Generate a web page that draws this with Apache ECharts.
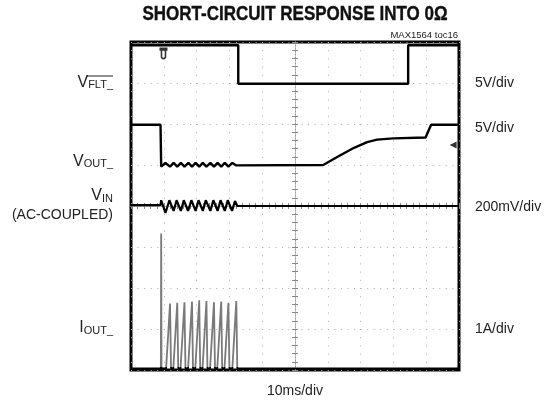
<!DOCTYPE html>
<html><head><meta charset="utf-8">
<script src="https://cdn.jsdelivr.net/npm/echarts@6/dist/echarts.min.js"></script>
<style>html,body{margin:0;padding:0;background:#fff}#c{width:559px;height:407px}</style>
</head><body><div id="c"></div>
<script>
// All values in oscilloscope divisions, centred on the screen (x: -5..5, y: -4..4)
const vfltX = [-5, -1.73, -1.73, 3.45, 3.45, 5];
const vfltY = [3.92, 3.92, 2.98, 2.98, 3.92, 3.92];

const voutX = [-5, -4.10, -4.08, -3.95, -3.81, -3.70, -3.59, -3.48, -3.37, -3.25, -3.14, -3.03, -2.92, -2.81, -2.70, -2.58, -2.47, -2.36, -2.25, -2.14, -2.03, -1.91, -1.79, 0.86, 1.30, 1.80, 2.20, 2.50, 3.00, 3.98, 4.15, 5];
const voutY = [1.98, 1.98, 0.96, 1.05, 0.96, 1.05, 0.96, 1.05, 0.96, 1.05, 0.96, 1.05, 0.96, 1.05, 0.96, 1.05, 0.96, 1.05, 0.96, 1.05, 0.96, 1.05, 0.99, 1.00, 1.20, 1.42, 1.56, 1.62, 1.65, 1.67, 1.98, 1.98];

const vinX = [-5, -4.10, -4.08, -3.95, -3.83, -3.70, -3.61, -3.48, -3.39, -3.26, -3.16, -3.03, -2.94, -2.81, -2.72, -2.58, -2.49, -2.36, -2.27, -2.14, -2.05, -1.92, -1.83, -1.76, 5];
const vinY = [0.02, 0.02, 0.14, -0.17, 0.14, -0.12, 0.14, -0.12, 0.14, -0.12, 0.14, -0.12, 0.14, -0.12, 0.14, -0.12, 0.14, -0.12, 0.14, -0.12, 0.14, -0.12, 0.12, 0.00, 0.00];

const ioutX = [-5, -4.09, -4.08, -4.07, -3.93, -3.81, -3.78, -3.71, -3.59, -3.56, -3.49, -3.37, -3.34, -3.26, -3.14, -3.11, -3.04, -2.92, -2.89, -2.82, -2.70, -2.67, -2.59, -2.47, -2.44, -2.37, -2.25, -2.22, -2.15, -2.03, -2.00, -1.91, -1.79, -1.76, 5];
const ioutY = [-3.96, -3.96, -0.67, -3.96, -3.96, -2.38, -3.96, -3.96, -2.36, -3.96, -3.96, -2.35, -3.96, -3.96, -2.33, -3.96, -3.96, -2.30, -3.96, -3.96, -2.32, -3.96, -3.96, -2.35, -3.96, -3.96, -2.33, -3.96, -3.96, -2.36, -3.96, -3.96, -2.32, -3.96, -3.96];

// trigger / level markers
const markerX = [-4.01, 4.82];
const markerY = [3.72, 1.49];

const leftLabels = [
  {main: 'V', sub: 'FLT_', y: 82.5},
  {main: 'V', sub: 'OUT_', y: 161.5},
  {main: 'V', sub: 'IN', y: 196},
  {main: 'I', sub: 'OUT_', y: 328}
];
const rightLabels = [
  {text: '5V/div', y: 83.5},
  {text: '5V/div', y: 128},
  {text: '200mV/div', y: 207},
  {text: '1A/div', y: 329}
];

const FONT = 'Liberation Sans, Arial, sans-serif';
function zip(xs, ys) { return xs.map((x, i) => [x, ys[i]]); }

const chart = echarts.init(document.getElementById('c'), null, {renderer: 'canvas'});

function axisCommon(pos, isX) {
  return {
    type: 'value', position: pos,
    min: isX ? -5 : -4, max: isX ? 5 : 4, interval: 1,
    axisLabel: {show: false},
    axisLine: {show: true, onZero: true, onZeroAxisIndex: 0, lineStyle: {color: '#999', width: 1, type: [1, 2]}},
    axisTick: {show: true, length: 3, lineStyle: {color: '#888', width: 1}},
    minorTick: {show: true, splitNumber: 5, length: 3, lineStyle: {color: '#888', width: 1}},
    splitLine: {show: false}
  };
}

const xMain = axisCommon('bottom', true);
xMain.splitLine = {show: true, lineStyle: {color: '#aaa', width: 1, type: [1, 7.2]}};
const yMain = axisCommon('left', false);
yMain.splitLine = {show: true, lineStyle: {color: '#aaa', width: 1, type: [1, 5.56]}};

const graphics = [
  {type: 'text', x: 295, y: 14, scaleX: 0.85, style: {text: 'SHORT-CIRCUIT RESPONSE INTO 0Ω', x: 0, y: 0, textAlign: 'center', align: 'center', textVerticalAlign: 'middle', verticalAlign: 'middle', fontSize: 20, fontWeight: 'bold', fontFamily: FONT, fill: '#111', stroke: '#111', lineWidth: 0.4}},
  {type: 'text', x: 458, y: 35.7, style: {text: 'MAX1564 toc16', textAlign: 'right', align: 'right', textVerticalAlign: 'middle', verticalAlign: 'middle', fontSize: 9.5, fontFamily: FONT, fill: '#222'}},
  {type: 'text', x: 295, y: 391, style: {text: '10ms/div', textAlign: 'center', align: 'center', textVerticalAlign: 'middle', verticalAlign: 'middle', fontSize: 14, fontFamily: FONT, fill: '#222'}},
  {type: 'text', x: 113, y: 215, style: {text: '(AC-COUPLED)', textAlign: 'right', align: 'right', textVerticalAlign: 'middle', verticalAlign: 'middle', fontSize: 14, fontFamily: FONT, fill: '#222'}},
  {type: 'line', shape: {x1: 87, y1: 76, x2: 113, y2: 76}, style: {stroke: '#222', lineWidth: 1}}
];
leftLabels.forEach(l => graphics.push({
  type: 'text', x: 113, y: l.y,
  style: {text: '{v|' + l.main + '}{s|' + l.sub + '}', textAlign: 'right', align: 'right', textVerticalAlign: 'middle', verticalAlign: 'middle', fill: '#222',
    rich: {v: {fontSize: 16, fontFamily: FONT, fill: '#222'}, s: {fontSize: 11, fontFamily: FONT, fill: '#222', padding: [5, 0, 0, 0]}}}
}));
rightLabels.forEach(l => graphics.push({
  type: 'text', x: 475, y: l.y,
  style: {text: l.text, textAlign: 'left', align: 'left', textVerticalAlign: 'middle', verticalAlign: 'middle', fontSize: 14, fontFamily: FONT, fill: '#222'}
}));

const lineBase = {type: 'line', symbol: 'none', showSymbol: false, animation: false, z: 5};
const ioutColor = new echarts.graphic.LinearGradient(0, 360, 0, 372, [
  {offset: 0, color: '#7a7a7a'}, {offset: 0.55, color: '#7a7a7a'}, {offset: 0.62, color: '#000'}, {offset: 1, color: '#000'}
], true);

chart.setOption({
  animation: false,
  backgroundColor: '#fff',
  grid: {left: 131, top: 42, width: 328, height: 328, show: true, borderColor: '#000', borderWidth: 3, backgroundColor: '#fff', containLabel: false},
  xAxis: [xMain, axisCommon('top', true)],
  yAxis: [yMain, axisCommon('right', false)],
  graphic: graphics,
  series: [
    Object.assign({}, lineBase, {name: 'VFLT', data: zip(vfltX, vfltY), lineStyle: {color: '#000', width: 2.4}}),
    Object.assign({}, lineBase, {name: 'VOUT', data: zip(voutX, voutY), lineStyle: {color: '#000', width: 2.4}}),
    Object.assign({}, lineBase, {name: 'VIN', data: zip(vinX, vinY), lineStyle: {color: '#000', width: 2.2}}),
    Object.assign({}, lineBase, {name: 'IOUT', data: zip(ioutX, ioutY), lineStyle: {color: ioutColor, width: 1.8}}),
    {type: 'scatter', name: 'markers', animation: false, z: 6,
      data: zip(markerX, markerY).map((p, i) => i === 0
        ? {value: p, symbol: 'path://M0,0L10,0L10,3L8.5,3L8.5,8C8.5,11.5 1.5,11.5 1.5,8L1.5,3L0,3Z M3.5,3L3.5,8C3.5,9.5 6.5,9.5 6.5,8L6.5,3Z', symbolSize: [8, 12]}
        : {value: p, symbol: 'triangle', symbolSize: 7, symbolRotate: 90}),
      itemStyle: {color: '#000'}}
  ]
});
</script></body></html>
